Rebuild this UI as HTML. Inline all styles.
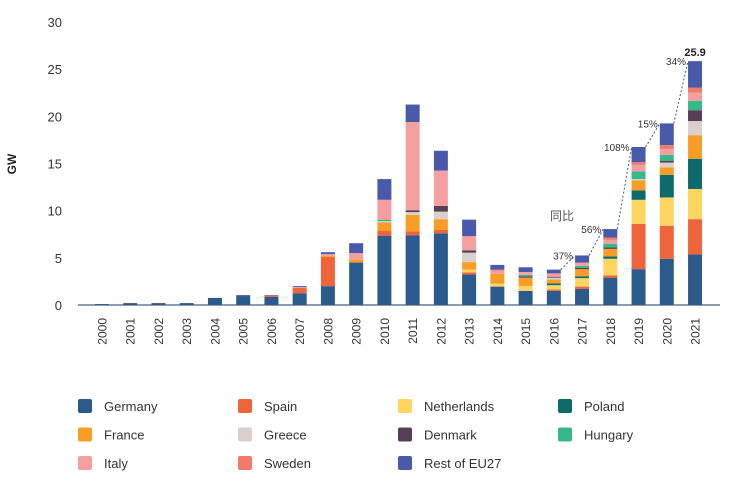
<!DOCTYPE html>
<html><head><meta charset="utf-8"><style>
body{margin:0;background:#fff;}
svg text{font-family:"Liberation Sans","Noto Sans CJK SC",sans-serif;}
</style></head><body>
<svg id="chart" width="729" height="477" xmlns="http://www.w3.org/2000/svg">
<g id="yaxis"></g>
<g id="bars"></g>
<g id="xaxis"></g>
<g id="ann"></g>
<g id="legend"></g>
<text transform="translate(16,164) rotate(-90)" text-anchor="middle" font-size="12" font-weight="bold" fill="#222">GW</text>
</svg>
<script>
const years = ["2000","2001","2002","2003","2004","2005","2006","2007","2008","2009","2010","2011","2012","2013","2014","2015","2016","2017","2018","2019","2020","2021"];
const seriesNames = ["Germany","Spain","Netherlands","Poland","France","Greece","Denmark","Hungary","Italy","Sweden","Rest of EU27"];
const germany     = [0.1,0.2,0.2,0.2,0.75,0.95,0.85,1.25,2.0,4.5,7.35,7.4,7.6,3.25,1.95,1.5,1.5,1.7,2.9,3.8,4.9,5.35];
const spain       = [0,0,0,0,0,0,0.15,0.55,3.1,0,0.5,0.4,0.35,0.2,0,0,0.15,0.25,0.25,4.8,3.5,3.75];
const netherlands = [0,0,0,0,0,0,0,0,0,0,0,0,0,0.3,0.3,0.5,0.45,0.9,1.75,2.55,3.0,3.2];
const poland      = [0,0,0,0,0,0,0,0,0,0,0,0,0,0,0,0,0.2,0.2,0.25,1.0,2.4,3.2];
const france      = [0,0,0,0,0,0,0,0,0.1,0.35,0.9,1.75,1.15,0.8,1.05,0.9,0.4,0.75,0.8,1.05,0.8,2.5];
const greece      = [0,0,0,0,0,0,0,0,0,0,0.15,0.3,0.8,1.0,0,0,0.2,0,0,0.15,0.5,1.5];
const denmark     = [0,0,0,0,0,0,0,0,0,0,0,0.2,0.6,0.25,0,0.15,0.1,0.15,0.15,0,0.2,1.15];
const hungary     = [0,0,0,0,0,0,0,0,0,0,0.15,0,0,0,0,0.15,0,0.2,0.4,0.8,0.6,1.0];
const italy       = [0,0,0,0,0,0,0,0.1,0.2,0.65,2.1,9.35,3.75,1.5,0.35,0.3,0.35,0.35,0.4,0.7,0.65,0.85];
const sweden      = [0,0,0,0,0,0,0,0,0,0,0,0,0,0,0.1,0,0,0,0.25,0.3,0.4,0.55];
const restEU      = [0,0,0,0,0,0.1,0.05,0.1,0.2,1.05,2.2,1.85,2.1,1.75,0.5,0.5,0.4,0.75,0.9,1.6,2.3,2.8];
const yTicks = [0,5,10,15,20,25,30];
const yoyYears = ["2017","2018","2019","2020","2021"];
const yoyLabels = ["37%","56%","108%","15%","34%"];
const totalLabel = "25.9";

const series=[germany,spain,netherlands,poland,france,greece,denmark,hungary,italy,sweden,restEU];
const colors=["#2b5a8c","#f0643c","#fdd55f","#0e6b6b","#f99d27","#d9d0cc","#573f55","#35b98a","#f4a0a0","#f27a6a","#4a5aaa"];
const NS="http://www.w3.org/2000/svg";
function mk(t,a,p){const e=document.createElementNS(NS,t);for(const k in a)e.setAttribute(k,a[k]);p.appendChild(e);return e;}
const y0=305,pxPer=283/30;
const yS=v=>y0-v*pxPer;
const xS=i=>102+i*28.24;
const bw=14;
const Y=document.getElementById('yaxis');
yTicks.forEach(t=>{const e=mk('text',{x:62,y:yS(t)+5,'text-anchor':'end','font-size':13,fill:'#333'},Y);e.textContent=t;

});
const base=mk('line',{x1:78,x2:720,y1:y0,y2:y0,stroke:'#6b7a8c','stroke-width':1.5},Y);


const B=document.getElementById('bars');
const totals=years.map((_,i)=>series.reduce((s,a)=>s+a[i],0));
years.forEach((yr,i)=>{let acc=0;const g=mk('g',{},B);


series.forEach((a,s)=>{const v=a[i];if(v<=0)return;
const r=mk('rect',{x:xS(i)-bw/2,y:yS(acc+v),width:bw,height:v*pxPer,fill:colors[s]},g);


acc+=v;});
const t=mk('text',{transform:`translate(${xS(i)+4.5},318) rotate(-90)`,'text-anchor':'end','font-size':12,fill:'#333'},document.getElementById('xaxis'));
t.textContent=yr;

});
const A=document.getElementById('ann');
yoyYears.forEach((yr,k)=>{const i=years.indexOf(yr);const p=i-1;
const l=mk('line',{x1:xS(p)+bw/2,y1:yS(totals[p]),x2:xS(i)-bw/2,y2:yS(totals[i]),stroke:'#4a5a70','stroke-width':1,'stroke-dasharray':'2,2'},A);


const t=mk('text',{x:xS(i)-bw/2-2,y:yS(totals[i])+4,'text-anchor':'end','font-size':10,fill:'#333'},A);
t.textContent=yoyLabels[k];

});
const last=years.length-1;
const tt=mk('text',{x:xS(last),y:yS(totals[last])-5,'text-anchor':'middle','font-size':11,'font-weight':'bold',fill:'#222'},A);
tt.textContent=totalLabel;


const tb=mk('text',{x:562,y:220,'text-anchor':'middle','font-size':12,fill:'#555'},A);
tb.textContent='同比';


const L=document.getElementById('legend');
seriesNames.forEach((n,s)=>{const col=s%4,row=Math.floor(s/4);const x=78+col*160,y=406+row*28.5;
const g=mk('g',{},L);


mk('rect',{x:x,y:y-7,width:14,height:14,rx:2,fill:colors[s]},g);
const t=mk('text',{x:x+26,y:y+5,'font-size':13,fill:'#333'},g);t.textContent=n;});
</script>
</body></html>
